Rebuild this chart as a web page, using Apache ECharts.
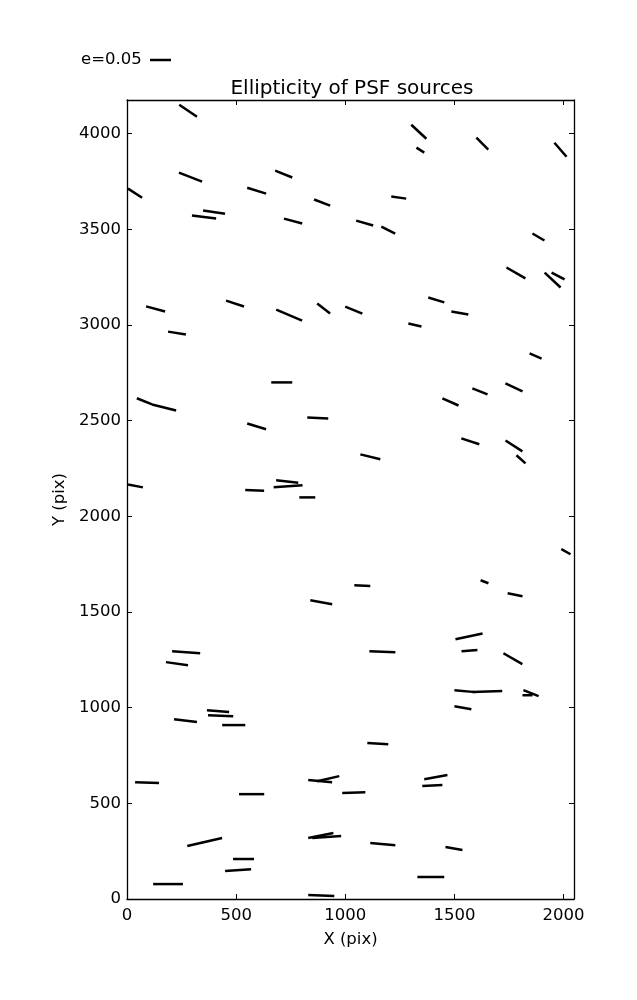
<!DOCTYPE html>
<html>
<head>
<meta charset="utf-8">
<script src="https://cdn.jsdelivr.net/npm/echarts/dist/echarts.min.js"></script>
<style>html,body{margin:0;padding:0;background:#fff;}#c{width:637px;height:1000px;}</style>
</head>
<body>
<div id="c"></div>
<script>
// Source positions (pix), ellipticity and position angle (deg, counter-clockwise from +X)
var xs = [280,1337,1344,1628,1986,291,718,37,594,1245,894,399,353,761,1089,1197,1885,1782,1950,1975,1417,495,131,901,1039,743,1525,1319,229,1872,709,1773,1617,80,170,1482,874,594,1573,1773,1805,1115,39,585,734,738,826,2011,1638,1078,1778,890,1567,271,1569,1170,1768,229,1548,1651,1851,1835,1539,417,429,268,489,1149,92,571,885,922,1039,1415,1399,356,888,915,1172,1498,534,509,1392,188,890];
var ys = [4120,4010,3914,3948,3916,3773,3789,3689,3702,3666,3640,3590,3564,3543,3533,3496,3460,3272,3235,3256,3131,3112,3084,3086,3078,3052,3063,3000,2958,2838,2700,2674,2653,2601,2569,2598,2514,2470,2392,2368,2298,2311,2159,2136,2182,2157,2099,1815,1658,1638,1590,1551,1373,1290,1298,1292,1256,1230,1086,1084,1076,1065,1000,982,958,932,909,812,608,548,616,629,556,637,593,298,332,324,287,264,209,151,115,78,18];
var es = [0.051,0.049,0.022,0.040,0.044,0.059,0.044,0.040,0.047,0.036,0.041,0.053,0.058,0.045,0.042,0.037,0.033,0.052,0.052,0.035,0.040,0.045,0.047,0.039,0.044,0.067,0.041,0.032,0.043,0.031,0.050,0.045,0.039,0.039,0.059,0.042,0.050,0.047,0.045,0.048,0.029,0.049,0.036,0.045,0.053,0.069,0.038,0.025,0.020,0.038,0.036,0.053,0.066,0.067,0.038,0.062,0.052,0.053,0.050,0.071,0.039,0.024,0.041,0.053,0.060,0.055,0.055,0.050,0.057,0.060,0.057,0.054,0.055,0.056,0.048,0.085,0.061,0.069,0.060,0.041,0.050,0.062,0.064,0.071,0.062];
var thetas = [-34,-43,-32,-45,-49,-21,-22,-33,-17,-8,-21,-8,-7,-15,-16,-27,-30,-30,-43,-28,-17,-18,-15,-38,-22,-23,-10,-13,-9,-23,0,-25,-22,-22,-14,-24,-3,-17,-18,-33,-42,-14,-11,-2,-6,4,0,-29,-21,-2,-11,-10,12,-4,4,-2,-30,-8,-5,2,-22,0,-10,-5,-2,-7,0,-3,-2,0,-5,13,2,10,3,13,11,4,-5,-10,0,4,0,0,-2];
var xTicks = [0,500,1000,1500,2000];
var yTicks = [0,500,1000,1500,2000,2500,3000,3500,4000];
var legendE = 0.05;
var legendLabel = 'e=0.05';

var SCALE = 420; // pixels per unit ellipticity
var FONT = 'DejaVu Sans';
var FS = 16.5;
var data = xs.map(function(x,i){ return [x, ys[i], es[i], thetas[i]]; });

var chart = echarts.init(document.getElementById('c'), null, {renderer:'canvas'});
function lbl(list){ return function(v){ return list.indexOf(v) >= 0 ? String(v) : ''; }; }
var axisBase = {
  type:'value', splitLine:{show:false},
  axisLine:{show:true, onZero:false, lineStyle:{color:'#000', width:1.3}},
  axisTick:{show:true, inside:true, length:5, lineStyle:{color:'#000', width:1}},
};
chart.setOption({
  animation:false,
  backgroundColor:'#fff',
  title:{text:'Ellipticity of PSF sources', left:347, textAlign:'center', top:74,
    textStyle:{fontFamily:FONT, fontSize:20, fontWeight:'normal', color:'#000'}},
  grid:{left:127, top:100, width:447, height:799, containLabel:false},
  xAxis:[
    Object.assign({}, axisBase, {position:'bottom', min:0, max:2048, interval:500,
      name:'X (pix)', nameLocation:'middle', nameGap:32,
      nameTextStyle:{fontFamily:FONT, fontSize:FS, color:'#000'},
      axisLabel:{show:true, color:'#000', fontFamily:FONT, fontSize:FS, margin:8, formatter:lbl(xTicks), showMaxLabel:false}}),
    Object.assign({}, axisBase, {position:'top', min:0, max:2048, interval:500, axisLabel:{show:false}})
  ],
  yAxis:[
    Object.assign({}, axisBase, {position:'left', min:0, max:4176, interval:500,
      name:'Y (pix)', nameLocation:'middle', nameGap:57, nameRotate:90,
      nameTextStyle:{fontFamily:FONT, fontSize:FS, color:'#000'},
      axisLabel:{show:true, color:'#000', fontFamily:FONT, fontSize:FS, margin:6, formatter:lbl(yTicks), showMaxLabel:false}}),
    Object.assign({}, axisBase, {position:'right', min:0, max:4176, interval:500, axisLabel:{show:false}})
  ],
  graphic:[
    {type:'text', left:81, top:51, style:{text:legendLabel, font:FS+'px "'+FONT+'"', fill:'#000'}},
    {type:'line', shape:{x1:150, y1:60, x2:150+legendE*SCALE, y2:60}, style:{stroke:'#000', lineWidth:2.5}}
  ],
  series:[{
    type:'custom', xAxisIndex:0, yAxisIndex:0, clip:true,
    data:data, encode:{x:0, y:1},
    renderItem:function(params, api){
      var c = api.coord([api.value(0), api.value(1)]);
      var h = api.value(2)*SCALE/2;
      var t = api.value(3)*Math.PI/180;
      var dx = h*Math.cos(t), dy = h*Math.sin(t);
      return {type:'line', shape:{x1:c[0]-dx, y1:c[1]+dy, x2:c[0]+dx, y2:c[1]-dy},
        style:{stroke:'#000', lineWidth:2.5, lineCap:'butt'}};
    }
  }]
});
</script>
</body>
</html>
